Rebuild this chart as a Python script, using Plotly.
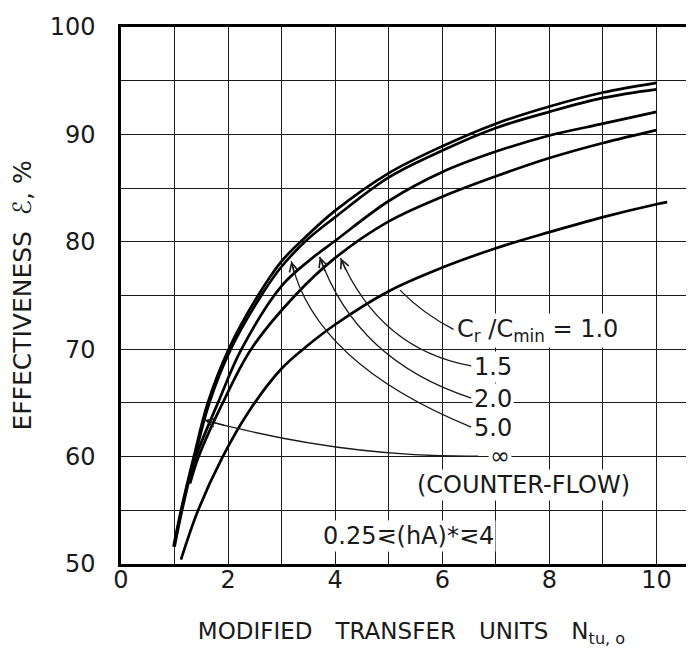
import plotly.graph_objects as go

# ---------------- data ----------------
ntu_inf = [0.98, 1.12, 1.36, 1.62, 2.01, 2.56, 3.0, 3.5, 4.0, 5.0, 6.0, 7.0, 8.0, 9.0, 10.0]
eff_inf = [51.6, 55.0, 60.0, 65.0, 70.0, 75.0, 78.2, 80.7, 82.9, 86.4, 88.9, 91.0, 92.6, 93.9, 94.8]

ntu_5 = [1.0, 1.14, 1.38, 1.65, 2.05, 2.62, 3.0, 3.5, 4.0, 5.0, 6.0, 7.0, 8.0, 9.0, 10.0]
eff_5 = [51.6, 55.0, 60.0, 65.0, 70.0, 75.0, 77.7, 80.3, 82.3, 86.0, 88.5, 90.6, 92.1, 93.4, 94.2]

ntu_2 = [1.27, 1.40, 1.81, 2.25, 3.0, 3.55, 4.0, 5.0, 6.0, 7.0, 8.0, 9.0, 10.0]
eff_2 = [57.5, 60.0, 65.0, 70.0, 75.9, 78.4, 80.1, 83.8, 86.5, 88.4, 89.9, 91.0, 92.1]

ntu_15 = [1.29, 1.45, 1.90, 2.43, 3.25, 4.0, 5.0, 6.0, 7.0, 8.0, 9.0, 10.0]
eff_15 = [57.5, 60.0, 65.0, 70.0, 75.0, 78.5, 81.9, 84.2, 86.1, 87.8, 89.2, 90.4]

ntu_1 = [1.12, 1.44, 1.90, 2.40, 3.0, 3.45, 4.0, 5.0, 6.0, 7.0, 8.0, 9.0, 10.0, 10.2]
eff_1 = [50.4, 55.0, 60.0, 64.3, 68.2, 70.2, 72.3, 75.4, 77.6, 79.4, 80.9, 82.3, 83.5, 83.7]

x_tick_vals = [0, 2, 4, 6, 8, 10]
y_tick_vals = [50, 60, 70, 80, 90, 100]

series = [
    ("∞", ntu_inf, eff_inf),
    ("5.0", ntu_5, eff_5),
    ("2.0", ntu_2, eff_2),
    ("1.5", ntu_15, eff_15),
    ("1.0", ntu_1, eff_1),
]

# ---------------- figure ----------------
FONT = "DejaVu Sans"
INK = "#1a1a1a"

fig = go.Figure()
for name, xs, ys in series:
    fig.add_trace(go.Scatter(
        x=xs, y=ys, mode="lines", name=name,
        line=dict(color="black", width=2.7, shape="spline", smoothing=1.0),
        showlegend=False, hoverinfo="skip",
    ))

# leader lines: (label point, control point, tip on curve)
leaders = [
    ((6.21, 71.85), (5.64, 73.3), (5.21, 75.5)),   # 1.0
    ((6.54, 68.45), (4.84, 70.0), (4.10, 78.5)),   # 1.5
    ((6.54, 65.45), (4.40, 68.9), (3.71, 78.6)),   # 2.0
    ((6.54, 62.75), (3.62, 68.7), (3.18, 78.2)),   # 5.0
    ((6.67, 60.05), (4.15, 59.9), (1.56, 63.4)),   # inf
]
shapes = []
annotations = []
for (x0, y0), (cx, cy), (x1, y1) in leaders:
    shapes.append(dict(
        type="path", xref="x", yref="y", layer="above",
        path=f"M {x0},{y0} Q {cx},{cy} {x1},{y1}",
        line=dict(color=INK, width=1.3),
    ))
    annotations.append(dict(
        x=x1, y=y1, ax=x1 + 0.15 * (cx - x1), ay=y1 + 0.15 * (cy - y1),
        xref="x", yref="y", axref="x", ayref="y", text="",
        showarrow=True, arrowhead=5, arrowsize=1.3, arrowwidth=1.3,
        arrowcolor=INK, standoff=0,
    ))

label_font = dict(family=FONT, size=24, color=INK)
labels = [
    ("C<sub>r</sub> /C<sub>min</sub> = 1.0", 6.24, 71.7, "left"),
    ("1.5", 6.55, 68.3, "left"),
    ("2.0", 6.55, 65.4, "left"),
    ("5.0", 6.55, 62.7, "left"),
    ("∞", 7.07, 60.1, "center"),
    ("(COUNTER-FLOW)", 7.51, 57.35, "center"),
    ("0.25⋜(hA)*⋜4", 5.36, 52.6, "center"),
]
for txt, x, y, anc in labels:
    annotations.append(dict(
        x=x, y=y, xref="x", yref="y", text=txt, showarrow=False,
        xanchor=anc, yanchor="middle", font=label_font,
        bgcolor="white", borderpad=1,
    ))

grid = dict(color=INK, width=1.4)
fig.update_layout(
    width=694, height=651,
    margin=dict(l=113, r=0, t=19, b=95),
    paper_bgcolor="white", plot_bgcolor="white",
    font=dict(family=FONT, size=24, color=INK),
    shapes=shapes, annotations=annotations,
    xaxis=dict(
        range=[0, 10.85], tickvals=x_tick_vals, ticktext=[str(v) for v in x_tick_vals],
        showgrid=True, gridcolor=grid["color"], gridwidth=grid["width"],
        minor=dict(dtick=1, tick0=0, showgrid=True, gridcolor=grid["color"], gridwidth=grid["width"]),
        showline=True, linecolor="black", linewidth=2.5, mirror=True,
        zeroline=False, ticks="", ticklabelstandoff=-8,
        tickfont=dict(family=FONT, size=24, color=INK),
        title=dict(text="MODIFIED\u2003TRANSFER\u2003UNITS\u2003N<sub>tu, o</sub>",
                   font=dict(family=FONT, size=23, color=INK), standoff=31),
    ),
    yaxis=dict(
        range=[50, 100], tickvals=y_tick_vals, ticktext=[str(v) for v in y_tick_vals],
        showgrid=True, gridcolor=grid["color"], gridwidth=grid["width"],
        minor=dict(dtick=5, tick0=50, showgrid=True, gridcolor=grid["color"], gridwidth=grid["width"]),
        showline=True, linecolor="black", linewidth=2.5, mirror=False,
        zeroline=False, ticks="", ticklabelstandoff=18,
        tickfont=dict(family=FONT, size=24, color=INK),
        title=dict(text="EFFECTIVENESS  ℰ, %",
                   font=dict(family=FONT, size=25, color=INK), standoff=12),
    ),
)

fig.write_html("out.html")
